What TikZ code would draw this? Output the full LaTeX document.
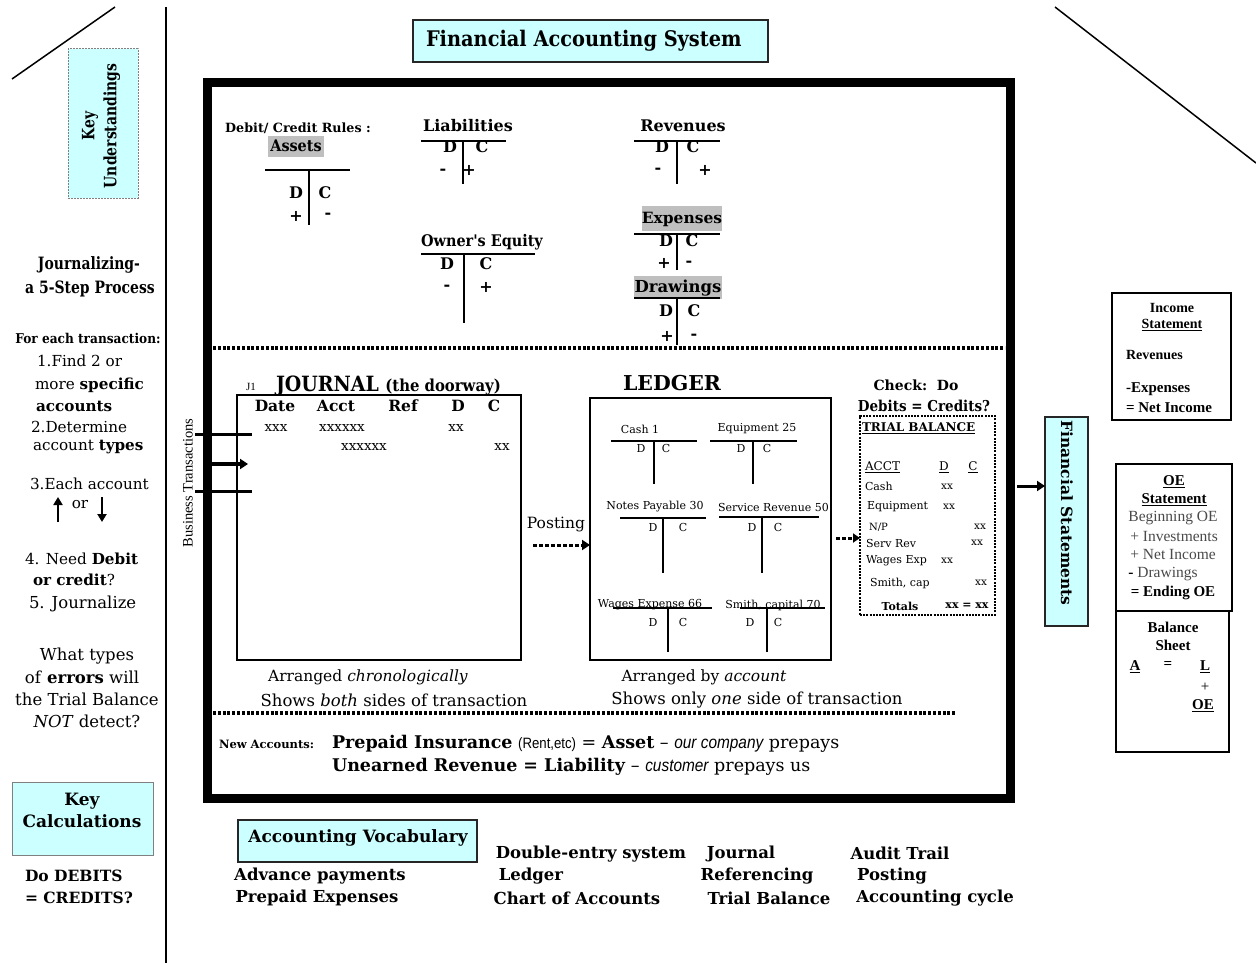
\documentclass[tikz,border=0pt]{standalone}
\usepackage{fontspec}
\setmainfont{DejaVu Serif}
\newfontfamily\cnd[FakeStretch=0.82]{DejaVu Serif}
\newfontfamily\midfam[FakeStretch=0.9]{DejaVu Serif}
\newfontfamily\tnr{Liberation Serif}
\newfontfamily\nsans[FakeStretch=0.88]{Liberation Sans}
\usetikzlibrary{arrows.meta}
\newcommand{\fsz}[1]{\fontsize{#1}{#1}\selectfont}
\definecolor{lcyan}{HTML}{CCFFFF}
\definecolor{hlgray}{HTML}{BFBFBF}
\definecolor{txtgray}{HTML}{4A4A4A}
\newcommand{\Tacct}[5]{\draw[tacct] (#1,#4) -- (#2,#4) (#3,#4) -- (#3,#5);}
\newcommand{\Lacct}[5]{\draw[ltacct] (#1,#4) -- (#2,#4) (#3,#4) -- (#3,#5);}
\tikzset{
  cyanbox/.style={draw=black!85, fill=lcyan, line width=1.3pt},
  hlbox/.style={fill=hlgray, draw=none},
  tacct/.style={line width=2.6pt},
  ltacct/.style={line width=1.8pt},
  dotrule/.style={line width=3.5pt, dash pattern=on 3pt off 1.8pt},
  fsbox/.style={draw, line width=2.6pt},
  rb/.style={font=\bfseries\fsz{#1}},
  rc/.style={font=\cnd\bfseries\fsz{#1}},
  rm/.style={font=\midfam\bfseries\fsz{#1}},
  rr/.style={font=\fsz{#1}},
  tb/.style={font=\tnr\bfseries\fsz{#1}},
  tr/.style={font=\tnr\fsz{#1}},
  bigtip/.style={-{Triangle[length=8pt,width=10pt]}},
}
\begin{document}
\begin{tikzpicture}[x=1pt,y=-1pt, every node/.style={inner sep=0pt, outer sep=0pt}]
\useasboundingbox (0,0) rectangle (1256,963);
\fill[white] (0,0) rectangle (1256,963);

% ---------- frame lines ----------
\coordinate (dl1) at (12,79); \coordinate (dl2) at (115,7);
\draw[line width=1.5pt] (dl1) -- (dl2);
\coordinate (dr1) at (1055,7); \coordinate (dr2) at (1256,163);
\draw[line width=1.5pt] (dr1) -- (dr2);
\coordinate (vl1) at (166,7); \coordinate (vl2) at (166,963);
\draw[line width=2.6pt] (vl1) -- (vl2);

% ---------- title ----------
\node[cyanbox, minimum width=355pt, minimum height=42pt] (fas) at (590.5,41) {};
\node[rm=21.5, anchor=west] (fastxt) at (426,41) {Financial Accounting System};

% ---------- main box ----------
\node[draw, line width=9pt, minimum width=803pt, minimum height=715pt] (mainbox) at (608.5,440.5) {};

% ---------- left column ----------
\node[draw=gray, dash pattern=on 2pt off 1pt, line width=1pt, fill=lcyan, minimum width=70pt, minimum height=149pt] (ku) at (103,123.5) {};
\node[font=\cnd\bfseries\fontsize{17}{22}\selectfont, rotate=90, align=center] (kutxt) at (101,126) {Key\\Understandings};

\node[rc=17] (jz1) at (89,265) {Journalizing-};
\node[rc=17] (jz2) at (90,289) {a 5-Step Process};
\node[rm=13.5] (fet) at (88,338) {For each transaction:};
\node[rr=15.2, anchor=west] (s1a) at (37,361) {1.Find 2 or};
\node[rr=15.2, anchor=west] (s1b) at (35,385) {more \textbf{specific}};
\node[rr=15.2, anchor=west] (s1c) at (36,406) {\textbf{accounts}};
\node[rr=15.2, anchor=west] (s2a) at (31,427) {2.Determine};
\node[rr=15.2, anchor=west] (s2b) at (33,447) {account \textbf{types}};
\node[rr=15.2, anchor=west] (s3a) at (30,484) {3.Each account};
\node[rr=15.2] (s3or) at (80,505) {or};
\coordinate (upa1) at (58,522); \coordinate (upa2) at (58,497);
\draw[line width=2.6pt, -{Triangle[length=8pt,width=9pt]}] (upa1) -- (upa2);
\coordinate (dna1) at (102,497); \coordinate (dna2) at (102,522);
\draw[line width=2.6pt, -{Triangle[length=8pt,width=9pt]}] (dna1) -- (dna2);
\node[rr=15.2, anchor=west] (s4a) at (25,559) {4. Need \textbf{Debit}};
\node[rr=15.2, anchor=west] (s4b) at (33,580) {\textbf{or credit}?};
\node[rr=16.5, anchor=west] (s5) at (29,604) {5. Journalize};
\node[rr=16.5] (q1) at (87,656) {What types};
\node[rr=16.5] (q2) at (82,677) {of \textbf{errors} will};
\node[rr=16.5] (q3) at (87,699) {the Trial Balance};
\node[rr=16.5] (q4) at (87,721) {\textit{NOT} detect?};

\node[cyanbox, draw=gray, line width=1pt, minimum width=141pt, minimum height=73pt] (kc) at (82.5,818.5) {};
\node[font=\bfseries\fontsize{17}{22}\selectfont, align=center] (kctxt) at (82,810) {Key\\Calculations};
\node[rb=15.5, anchor=west] (dd1) at (25,876) {Do DEBITS};
\node[rb=15.5, anchor=west] (dd2) at (25,898) {= CREDITS?};

% ---------- debit / credit rules ----------
\node[rb=12.7] (dcr) at (298,128) {Debit/ Credit Rules :};
\node[hlbox, minimum width=56pt, minimum height=21pt] (ashl) at (296,147) {};
\node[rm=16] (assets) at (296,146) {Assets};
\Tacct{265}{350}{309}{170}{225}
\node[rb=16] (aD) at (296,193) {D}; \node[rb=16] (aC) at (325,193) {C};
\node[rb=16] (aP) at (296,216) {+}; \node[rb=16] (aM) at (328,216) {-};

\node[rb=16] (liab) at (468,126) {Liabilities};
\Tacct{421}{506}{463}{141}{184}
\node[rb=16] (lD) at (450,147) {D}; \node[rb=16] (lC) at (482,147) {C};
\node[rb=16] (lM) at (443,172) {-}; \node[rb=16] (lP) at (469,170) {+};

\node[rb=16] (rev) at (683,126) {Revenues};
\Tacct{634}{720}{677}{141}{184}
\node[rb=16] (rD) at (662,147) {D}; \node[rb=16] (rC) at (693,147) {C};
\node[rb=16] (rM) at (658,171) {-}; \node[rb=16] (rP) at (705,170) {+};

\node[rm=16] (oe) at (482,242) {Owner's Equity};
\Tacct{421}{535}{464}{254}{323}
\node[rb=16] (oD) at (447,264) {D}; \node[rb=16] (oC) at (486,264) {C};
\node[rb=16] (oM) at (447,288) {-}; \node[rb=16] (oP) at (486,287) {+};

\node[hlbox, minimum width=80pt, minimum height=25pt] (exhl) at (682,218) {};
\node[rb=15.5] (exp) at (682,219) {Expenses};
\Tacct{634}{720}{677}{234}{270}
\node[rb=16] (eD) at (666,241) {D}; \node[rb=16] (eC) at (692,241) {C};
\node[rb=16] (eP) at (664,263) {+}; \node[rb=16] (eM) at (689,264) {-};

\node[hlbox, minimum width=88pt, minimum height=23pt] (drhl) at (678,287) {};
\node[rb=16.5] (drw) at (678,288) {Drawings};
\Tacct{634}{720}{677}{298}{345}
\node[rb=16] (dD) at (666,311) {D}; \node[rb=16] (dC) at (694,311) {C};
\node[rb=16] (dP) at (667,336) {+}; \node[rb=16] (dM) at (694,337) {-};

\coordinate (dot1a) at (213,348); \coordinate (dot1b) at (1005,348);
\draw[dotrule] (dot1a) -- (dot1b);

% ---------- journal ----------
\node[draw, line width=2.6pt, minimum width=284pt, minimum height=265pt] (jbox) at (379,527.5) {};
\node[tr=11] (j1) at (251,387) {J1};
\node[anchor=base west, font=\midfam\bfseries] (jtitle) at (276,391) {\fsz{21}JOURNAL \fsz{16.5}(the doorway)};
\node[rb=15.5] (hDate) at (275,406) {Date};
\node[rb=15.5] (hAcct) at (336,406) {Acct};
\node[rb=15.5] (hRef) at (403,406) {Ref};
\node[rb=15.5] (hD) at (458,406) {D};
\node[rb=15.5] (hC) at (494,406) {C};
\node[rr=13.5] (x1) at (276,428) {xxx};
\node[rr=13.5] (x2) at (342,428) {xxxxxx};
\node[rr=13.5] (x3) at (456,428) {xx};
\node[rr=13.5] (x4) at (364,447) {xxxxxx};
\node[rr=13.5] (x5) at (502,447) {xx};
\node[rr=15.5] (jar) at (368,677) {Arranged \textit{chronologically}};
\node[rr=16.5] (jsh) at (394,700) {Shows \textit{both} sides of transaction};

% business transactions
\node[tr=14.5, rotate=90] (bt) at (188,483) {Business Transactions};
\coordinate (bl1a) at (195,434); \coordinate (bl1b) at (252,434);
\draw[line width=3pt] (bl1a) -- (bl1b);
\coordinate (bl2a) at (195,491); \coordinate (bl2b) at (252,491);
\draw[line width=3pt] (bl2a) -- (bl2b);
\coordinate (bta) at (211,464); \coordinate (btb) at (248,464);
\draw[line width=3.5pt, bigtip] (bta) -- (btb);

% ---------- ledger ----------
\node[rb=20.5] (ledger) at (672,383) {LEDGER};
\node[draw, line width=2.6pt, minimum width=241pt, minimum height=262pt] (lbox) at (710.5,529) {};
\node[rr=11] (lc1) at (640,429) {Cash 1};
\Lacct{611}{697}{654}{441}{484}
\node[rr=11] (lc1D) at (641,448) {D}; \node[rr=11] (lc1C) at (666,448) {C};
\node[rr=11] (le25) at (757,429) {Equipment 25};
\Lacct{710}{797}{753}{441}{484}
\node[rr=11] (le25D) at (741,448) {D}; \node[rr=11] (le25C) at (767,448) {C};
\node[rr=11] (ln30) at (655,507) {Notes Payable 30};
\Lacct{620}{706}{663}{518}{573}
\node[rr=11] (ln30D) at (653,527) {D}; \node[rr=11] (ln30C) at (683,527) {C};
\node[rr=11, anchor=west] (ls50) at (718,507) {Service Revenue 50};
\Lacct{719}{819}{762}{517}{573}
\node[rr=11] (ls50D) at (752,527) {D}; \node[rr=11] (ls50C) at (778,527) {C};
\node[rr=11] (lw66) at (650,605) {Wages Expense 66};
\Lacct{613}{712}{668}{608}{652}
\node[rr=11] (lw66D) at (653,622) {D}; \node[rr=11] (lw66C) at (683,622) {C};
\node[rr=11] (lsc70) at (773,605) {Smith, capital 70};
\Lacct{740}{825}{767}{608}{652}
\node[rr=11] (lsc70D) at (750,622) {D}; \node[rr=11] (lsc70C) at (778,622) {C};
\node[rr=15.5] (lar) at (704,677) {Arranged by \textit{account}};
\node[rr=16.5] (lsh) at (757,700) {Shows only \textit{one} side of transaction};

% ---------- posting ----------
\node[rr=15.5] (post) at (556,525) {Posting};
\coordinate (pa) at (533,545);
\draw[line width=3pt, dash pattern=on 4pt off 2pt, bigtip] (pa) -- (pa -| lbox.west);

% ---------- trial balance ----------
\node[rb=14] (chk1) at (916,385) {Check:\ \ Do};
\node[rm=15] (chk2) at (924,406) {Debits = Credits?};
\node[draw, line width=2.6pt, dash pattern=on 2pt off 1.2pt, minimum width=135pt, minimum height=199pt] (tb) at (927.5,515.5) {};
\node[font=\bfseries\fsz{12}, anchor=west] (tbt) at (862,428) {\underline{TRIAL BALANCE}};
\node[rr=12, anchor=west] (tbacct) at (865,467) {\underline{ACCT}};
\node[rr=12] (tbD) at (944,467) {\underline{D}};
\node[rr=12] (tbC) at (973,467) {\underline{C}};
\node[rr=11, anchor=west] (tb1) at (865,486) {Cash};
\node[rr=10.5] (tb1x) at (947,487) {xx};
\node[rr=11, anchor=west] (tb2) at (867,507) {Equipment};
\node[rr=10.5] (tb2x) at (949,507) {xx};
\node[rr=10, anchor=west] (tb3) at (869,527) {N/P};
\node[rr=10.5] (tb3x) at (980,527) {xx};
\node[rr=11, anchor=west] (tb4) at (866,543) {Serv Rev};
\node[rr=10.5] (tb4x) at (977,543) {xx};
\node[rr=11, anchor=west] (tb5) at (866,561) {Wages Exp};
\node[rr=10.5] (tb5x) at (947,561) {xx};
\node[rr=11, anchor=west] (tb6) at (870,583) {Smith, cap};
\node[rr=10.5] (tb6x) at (981,583) {xx};
\node[font=\bfseries\fsz{11}] (tbtot) at (900,606) {Totals};
\node[font=\bfseries\fsz{11}] (tbtotx) at (967,606) {xx = xx};
\coordinate (tba) at (836,538);
\draw[line width=3pt, dash pattern=on 4pt off 2pt, -{Triangle[length=7pt,width=9pt]}] (tba) -- (tba -| tb.west);

\coordinate (dot2a) at (213,713); \coordinate (dot2b) at (955,713);
\draw[dotrule] (dot2a) -- (dot2b);

% ---------- new accounts ----------
\node[rb=11.5, anchor=base west] (na) at (219,748) {New Accounts:};
\node[anchor=base west, font=\fsz{17.5}] (na1) at (332,748) {\textbf{Prepaid Insurance} {\nsans\fsz{15}(Rent,etc)} = \textbf{Asset} -- {\nsans\itshape our company} prepays};
\node[anchor=base west, font=\fsz{17.5}] (na2) at (332,771) {\textbf{Unearned Revenue = Liability} -- {\nsans\itshape customer} prepays us};

% ---------- vocabulary ----------
\node[cyanbox, minimum width=239pt, minimum height=42pt] (av) at (357.5,841) {};
\node[rb=17] (avt) at (358,838) {Accounting Vocabulary};
\node[rb=16.5] (v1) at (591,854) {Double-entry system};
\node[rb=16.5] (v2) at (741,854) {Journal};
\node[rb=16.5] (v3) at (900,853) {Audit Trail};
\node[rb=16.5] (v4) at (320,876) {Advance payments};
\node[rb=16.5] (v5) at (531,876) {Ledger};
\node[rb=16.5] (v6) at (757,876) {Referencing};
\node[rb=16.5] (v7) at (892,876) {Posting};
\node[rb=16.5] (v8) at (317,898) {Prepaid Expenses};
\node[rb=16.5] (v9) at (577,898) {Chart of Accounts};
\node[rb=16.5] (v10) at (769,898) {Trial Balance};
\node[rb=16.5] (v11) at (935,898) {Accounting cycle};

% ---------- financial statements ----------
\node[cyanbox, line width=1.5pt, minimum width=43pt, minimum height=209pt] (fsb) at (1066.5,521.5) {};
\node[rb=15.5, rotate=-90] (fst) at (1067,513) {Financial Statements};
\coordinate (fsa) at (1017,486);
\draw[line width=3pt, bigtip] (fsa) -- (fsa -| fsb.west);

\node[fsbox, minimum width=119pt, minimum height=127pt] (isb) at (1171.5,356.5) {};
\node[tb=14] (is1) at (1172,308) {Income};
\node[tb=14] (is2) at (1172,325) {\underline{Statement}};
\node[tb=14, anchor=west] (is3) at (1126,355) {Revenues};
\node[tb=15, anchor=west] (is4) at (1126,389) {-Expenses};
\node[tb=15, anchor=west] (is5) at (1126,408) {= Net Income};

\node[fsbox, minimum width=116pt, minimum height=147pt] (oeb) at (1174,537.5) {};
\node[tb=15] (oe1) at (1174,482) {\underline{OE}};
\node[tb=15] (oe2) at (1174,500) {\underline{Statement}};
\node[tr=15.5, text=txtgray] (oe3) at (1173,518) {Beginning OE};
\node[tr=15.5, text=txtgray] (oe4) at (1174,536) {+ Investments};
\node[tr=15.5, text=txtgray] (oe5) at (1173,554) {+ Net Income};
\node[tr=15.5, text=txtgray] (oe6) at (1163,574) {\textcolor{black}{\textbf{-}} Drawings};
\node[tb=15] (oe7) at (1173,593) {= Ending OE};

\node[fsbox, minimum width=113pt, minimum height=141pt] (bsb) at (1172.5,681.5) {};
\node[tb=15] (bs1) at (1173,627) {Balance};
\node[tb=15] (bs2) at (1173,645) {Sheet};
\node[tb=15] (bsA) at (1135,667) {\underline{A}};
\node[tb=15] (bsE) at (1168,665) {=};
\node[tb=15] (bsL) at (1205,667) {\underline{L}};
\node[tr=15] (bsP) at (1205,687) {+};
\node[tb=15] (bsOE) at (1203,706) {\underline{OE}};
\end{tikzpicture}
\end{document}
